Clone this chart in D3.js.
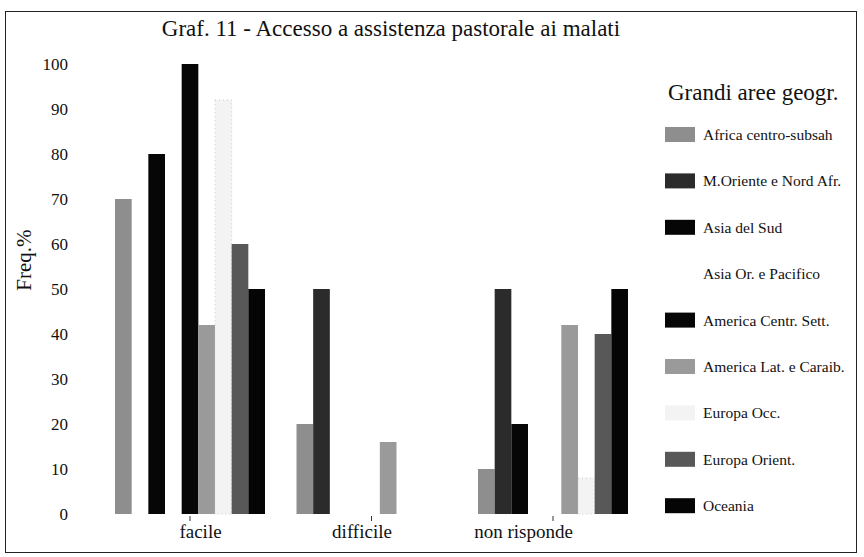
<!DOCTYPE html>
<html><head><meta charset="utf-8">
<script src="https://cdn.jsdelivr.net/npm/d3@7"></script>
<style>html,body{margin:0;padding:0;background:#fff;} svg{display:block;font-family:"Liberation Serif","Times New Roman",serif;}</style>
</head><body><svg id="c" width="864" height="557"></svg>
<script>
// ---- data ----
const categories = ["facile", "difficile", "non risponde"];
const seriesNames = ["Africa centro-subsah", "M.Oriente e Nord Afr.", "Asia del Sud", "Asia Or. e Pacifico",
  "America Centr. Sett.", "America Lat. e Caraib.", "Europa Occ.", "Europa Orient.", "Oceania"];
// values per series, in category order (facile, difficile, non risponde)
const africaCentroSubsah = [70, 20, 10];
const mOrienteNordAfr   = [0, 50, 50];
const asiaDelSud        = [80, 0, 20];
const asiaOrPacifico    = [75, 0, 25];
const americaCentrSett  = [100, 0, 0];
const americaLatCaraib  = [42, 16, 42];
const europaOcc         = [92, 0, 8];
const europaOrient      = [60, 0, 40];
const oceania           = [50, 0, 50];
const yTickValues = [0, 10, 20, 30, 40, 50, 60, 70, 80, 90, 100];
const titleText = "Graf. 11 - Accesso a assistenza pastorale ai malati";
const legendTitle = "Grandi aree geogr.";
const yAxisTitle = "Freq.%";

// ---- styles ----
const fills = ["#8e8e8e", "#2b2b2b", "#060606", "#ffffff", "#060606", "#9a9a9a", "#f3f3f3", "#585858", "#050505"];

const seriesValues = [africaCentroSubsah, mOrienteNordAfr, asiaDelSud, asiaOrPacifico,
  americaCentrSett, americaLatCaraib, europaOcc, europaOrient, oceania];
const table = [];
categories.forEach((c, ci) => seriesNames.forEach((s, si) => table.push({cat: c, series: s, si, value: seriesValues[si][ci]})));

const svg = d3.select("#c");
const W = 864, H = 557;
svg.append("rect").attr("width", W).attr("height", H).attr("fill", "#fff");

// frame
svg.append("rect").attr("x", 5.5).attr("y", 11.5).attr("width", 851).attr("height", 541)
  .attr("fill", "none").attr("stroke", "#222").attr("stroke-width", 1);

const x0 = d3.scaleBand().domain(categories).range([99.25, 643.75]).paddingInner(0.1736).paddingOuter(0.0868);
const x1 = d3.scaleBand().domain(seriesNames).range([0, x0.bandwidth()]).padding(0);
const y = d3.scaleLinear().domain([0, 100]).range([514, 64]);
// category labels sit slightly off the group centres in the original
const xLabel = d3.scalePoint().domain(categories).range([200, 523]);

// bars
svg.append("g").selectAll("rect").data(table).join("rect")
  .attr("x", d => x0(d.cat) + x1(d.series))
  .attr("y", d => y(d.value))
  .attr("width", x1.bandwidth())
  .attr("height", d => y(0) - y(d.value))
  .attr("fill", d => fills[d.si])
  .attr("stroke", d => d.si === 6 ? "#c8c8c8" : "none")
  .attr("stroke-dasharray", d => d.si === 6 ? "1,3" : null)
  .attr("stroke-width", 1);

// y axis labels
const yAxis = d3.axisLeft(y).tickValues(yTickValues).tickSize(0).tickPadding(0);
const gy = svg.append("g").attr("transform", "translate(68,0)").call(yAxis);
gy.select(".domain").remove();
gy.selectAll("text").attr("font-size", 17).attr("font-family", "Liberation Serif").attr("fill", "#111");

// small category ticks at group centres
const xTicks = d3.axisBottom(x0).tickSize(5).tickFormat("");
const gt = svg.append("g").attr("transform", "translate(0,516)").call(xTicks);
gt.select(".domain").remove();
gt.selectAll("line").attr("stroke", "#333");

// category labels
const xAxis = d3.axisBottom(xLabel).tickSize(0).tickPadding(0);
const gx = svg.append("g").attr("transform", "translate(0,524)").call(xAxis);
gx.select(".domain").remove();
gx.selectAll("text").attr("font-size", 19).attr("font-family", "Liberation Serif").attr("fill", "#111");

// y title
svg.append("text").attr("transform", "translate(31,260) rotate(-90)")
  .attr("text-anchor", "middle").attr("font-size", 21).attr("fill", "#111").text(yAxisTitle);

// title
svg.append("text").attr("x", 391).attr("y", 36).attr("text-anchor", "middle")
  .attr("font-size", 23).attr("fill", "#111").text(titleText);

// legend
const lg = svg.append("g");
lg.append("text").attr("x", 668).attr("y", 100).attr("font-size", 23).attr("fill", "#111").text(legendTitle);
const items = lg.selectAll("g.item").data(seriesNames).join("g").attr("class", "item")
  .attr("transform", (d, i) => `translate(665,${134.5 + i * 46.4})`);
items.append("rect").attr("x", 0).attr("y", -7.5).attr("width", 30).attr("height", 15)
  .attr("fill", (d, i) => fills[i]);
items.append("text").attr("x", 38).attr("y", 0).attr("dominant-baseline", "central")
  .attr("font-size", 15.5).attr("fill", "#111").text(d => d);
</script></body></html>
